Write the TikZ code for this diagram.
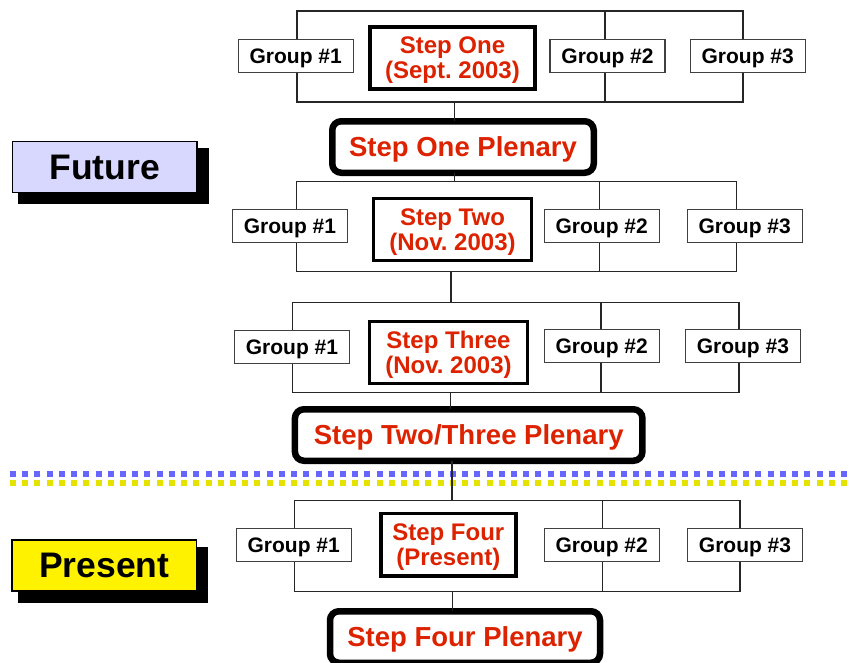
\documentclass[tikz,border=0pt]{standalone}
\usepackage{fontspec}
\setmainfont{Liberation Sans}
\frenchspacing
\definecolor{stepred}{RGB}{221,34,0}
\definecolor{futurefill}{RGB}{216,216,255}
\definecolor{presentfill}{RGB}{255,242,0}
\definecolor{dotblue}{RGB}{102,102,255}
\definecolor{dotyellow}{RGB}{230,226,0}
\begin{document}
\begin{tikzpicture}[x=1pt,y=-1pt,
  every node/.style={outer sep=0pt, inner sep=0pt},
  frame/.style={draw=black!85, line width=1.2pt},
  link/.style={draw=black!85, line width=1.2pt},
  groupbox/.style={draw=black!75, fill=white, line width=1.2pt,
    minimum width=115pt, minimum height=33pt, text depth=0pt,
    font=\fontsize{21}{22}\selectfont\bfseries},
  stepbox/.style={draw=black, fill=white, line width=3.4pt,
    minimum height=62pt, align=center, text=stepred, text depth=0pt,
    font=\fontsize{24}{25}\selectfont\bfseries},
  plenary/.style={draw=black, fill=white, line width=6.5pt,
    rounded corners=9pt, minimum height=51.5pt, text=stepred, text depth=0pt,
    font=\fontsize{27.5}{28}\selectfont\bfseries},
  era/.style={draw=black, line width=1.4pt,
    minimum width=184.5pt, minimum height=51pt,
    font=\fontsize{35.5}{36}\selectfont\bfseries},
  dots/.style={line width=6pt, dash pattern=on 6pt off 6.22pt}]

\useasboundingbox (0,0) rectangle (849,662);
\clip (0,0) rectangle (849,662);

% boundary between future and present
\draw[dots, dotblue] (10,474) -- (849,474);
\draw[dots, dotyellow] (10,483.3) -- (849,483.3);

% era labels with drop shadows
\fill[black] (18,148) rectangle (209,204);
\node[era, fill=futurefill] (fut) at (104.7,167.2) {Future};
\fill[black] (18,547) rectangle (208,602.7);
\node[era, fill=presentfill] (pres) at (104.2,565.3) {Present};

% group frames
\node[frame, minimum width=446pt, minimum height=91pt] (f1) at (520,56.5) {};
\node[frame, minimum width=440pt, minimum height=90pt] (f2) at (516.7,226.7) {};
\node[frame, minimum width=446.7pt, minimum height=90.4pt] (f3) at (515.7,347.5) {};
\node[frame, minimum width=445.7pt, minimum height=91pt] (f4) at (517.2,546.2) {};

% middle dividers of the frames
\coordinate (m1) at (605,0);
\coordinate (m2) at (599.3,0);
\coordinate (m3) at (601,0);
\coordinate (m4) at (602.7,0);
\draw[link] (f1.north -| m1) -- (f1.south -| m1);
\draw[link] (f2.north -| m2) -- (f2.south -| m2);
\draw[link] (f3.north -| m3) -- (f3.south -| m3);
\draw[link] (f4.north -| m4) -- (f4.south -| m4);

% step one
\node[groupbox] (g11) at (295.7,56) {Group \#1};
\node[stepbox, minimum width=165pt] (s1) at (452.5,57.9) {Step One\\(Sept. 2003)};
\node[groupbox] (g12) at (607.5,56) {Group \#2};
\node[groupbox] (g13) at (747.7,56) {Group \#3};
\node[plenary, minimum width=261.5pt] (p1) at (463,147) {Step One Plenary};

% step two
\node[groupbox] (g21) at (290,225.8) {Group \#1};
\node[stepbox, minimum width=158pt] (s2) at (452.5,229.5) {Step Two\\(Nov. 2003)};
\node[groupbox] (g22) at (601.7,225.8) {Group \#2};
\node[groupbox] (g23) at (744.7,225.8) {Group \#3};

% step three
\node[groupbox] (g31) at (292,347) {Group \#1};
\node[stepbox, minimum width=158pt, minimum height=61.5pt] (s3) at (448.5,352.5) {Step Three\\(Nov. 2003)};
\node[groupbox] (g32) at (601.7,346.3) {Group \#2};
\node[groupbox] (g33) at (742.9,346.3) {Group \#3};
\node[plenary, minimum width=347.5pt] (p23) at (468.7,435) {Step Two/Three Plenary};

% step four
\node[groupbox] (g41) at (293.7,545.3) {Group \#1};
\node[stepbox, minimum width=135pt, minimum height=62.5pt] (s4) at (448.3,544.7) {Step Four\\(Present)};
\node[groupbox] (g42) at (601.7,545.3) {Group \#2};
\node[groupbox] (g43) at (745,545.3) {Group \#3};
\node[plenary, minimum width=270pt] (p4) at (465,637) {Step Four Plenary};

% vertical connectors
\coordinate (k1) at (454.3,0);
\coordinate (k2) at (454.3,0);
\coordinate (k3) at (451,0);
\coordinate (k4) at (450.7,0);
\coordinate (k5) at (452,0);
\coordinate (k6) at (452.3,0);
\draw[link] (f1.south -| k1) -- (p1.north -| k1);
\draw[link] (p1.south -| k2) -- (f2.north -| k2);
\draw[link] (f2.south -| k3) -- (f3.north -| k3);
\draw[link] (f3.south -| k4) -- (p23.north -| k4);
\draw[link] (p23.south -| k5) -- (f4.north -| k5);
\draw[link] (f4.south -| k6) -- (p4.north -| k6);
\end{tikzpicture}
\end{document}
